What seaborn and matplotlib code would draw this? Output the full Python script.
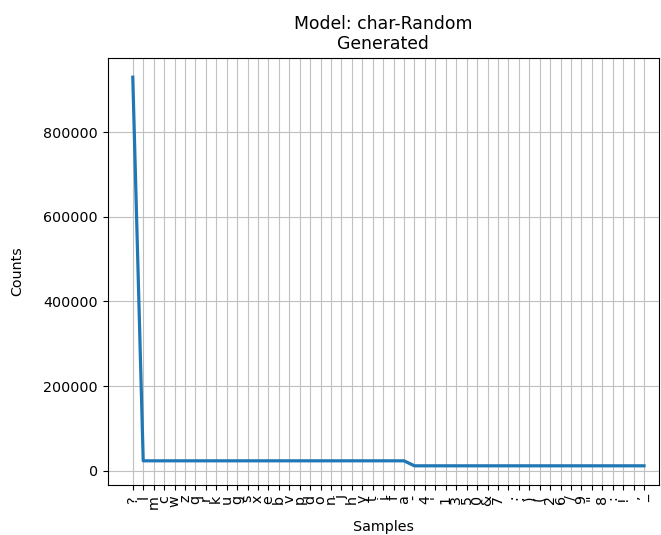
import matplotlib
matplotlib.use("Agg")
import matplotlib.pyplot as plt
import seaborn as sns
import pandas as pd

# Character frequency distribution for the generated text
samples = ["?",
           "l", "m", "c", "w", "z", "q", "r", "k", "u", "g", "s", "x", "e",
           "b", "v", "p", "d", "o", "n", "j", "h", "y", "t", "i", "f", "a",
           "-", "4", "'", "1", "3", "5", "0", "&", "7", ".", ";", ")", "(",
           "2", "6", "/", "9", "\"", "8", ":", "!", ",", "_"]
counts = [930000] + [23500] * 26 + [11700] * 23

df = pd.DataFrame({"pos": range(len(samples)), "sample": samples, "count": counts})

fig = plt.figure(figsize=(6.61, 5.35), dpi=100)
ax = fig.add_axes([0.163, 0.093, 0.834, 0.799])
sns.lineplot(data=df, x="pos", y="count", ax=ax, linewidth=2.3, color="#1f77b4")
ax.grid(True, color="silver")
ax.set_axisbelow(True)
ax.set_xticks(df["pos"])
ax.set_xticklabels(samples, rotation=90, fontsize=10.3)
ax.tick_params(axis="y", labelsize=10.3)
ax.set_xlim(-2.4, 50.44)
ax.set_xlabel("Samples", labelpad=8, fontsize=10.3)
ax.set_ylabel("Counts", labelpad=14, fontsize=10.3)
ax.set_title("Model: char-Random\nGenerated", fontsize=12.4)
fig.savefig("out.png", dpi=100)
